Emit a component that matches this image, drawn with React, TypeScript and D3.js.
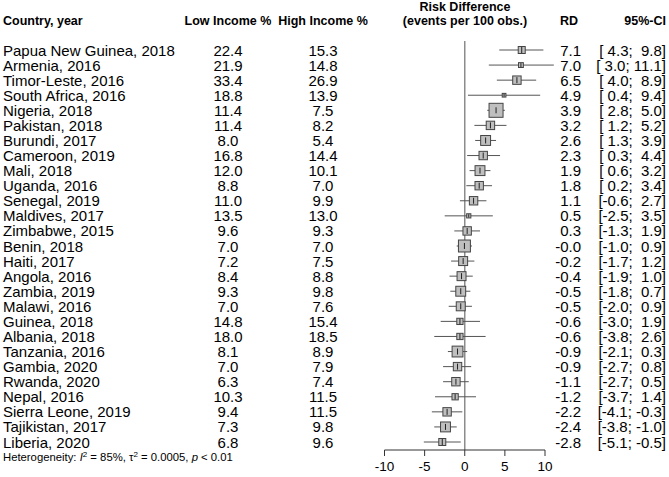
import React from "react";
import * as d3 from "d3";

const countries = [
  "Papua New Guinea, 2018", "Armenia, 2016", "Timor-Leste, 2016", "South Africa, 2016",
  "Nigeria, 2018", "Pakistan, 2018", "Burundi, 2017", "Cameroon, 2019", "Mali, 2018",
  "Uganda, 2016", "Senegal, 2019", "Maldives, 2017", "Zimbabwe, 2015", "Benin, 2018",
  "Haiti, 2017", "Angola, 2016", "Zambia, 2019", "Malawi, 2016", "Guinea, 2018",
  "Albania, 2018", "Tanzania, 2016", "Gambia, 2020", "Rwanda, 2020", "Nepal, 2016",
  "Sierra Leone, 2019", "Tajikistan, 2017", "Liberia, 2020",
];
const lowIncome = [22.4, 21.9, 33.4, 18.8, 11.4, 11.4, 8.0, 16.8, 12.0, 8.8, 11.0, 13.5, 9.6, 7.0, 7.2, 8.4, 9.3, 7.0, 14.8, 18.0, 8.1, 7.0, 6.3, 10.3, 9.4, 7.3, 6.8];
const highIncome = [15.3, 14.8, 26.9, 13.9, 7.5, 8.2, 5.4, 14.4, 10.1, 7.0, 9.9, 13.0, 9.3, 7.0, 7.5, 8.8, 9.8, 7.6, 15.4, 18.5, 8.9, 7.9, 7.4, 11.5, 11.5, 9.8, 9.6];
const rd = [7.1, 7.0, 6.5, 4.9, 3.9, 3.2, 2.6, 2.3, 1.9, 1.8, 1.1, 0.5, 0.3, -0.04, -0.2, -0.4, -0.5, -0.5, -0.6, -0.6, -0.9, -0.9, -1.1, -1.2, -2.2, -2.4, -2.8];
const ciLower = [4.3, 3.0, 4.0, 0.4, 2.8, 1.2, 1.3, 0.3, 0.6, 0.2, -0.6, -2.5, -1.3, -1.0, -1.7, -1.9, -1.8, -2.0, -3.0, -3.8, -2.1, -2.7, -2.7, -3.7, -4.1, -3.8, -5.1];
const ciUpper = [9.8, 11.1, 8.9, 9.4, 5.0, 5.2, 3.9, 4.4, 3.2, 3.4, 2.7, 3.5, 1.9, 0.9, 1.2, 1.0, 0.7, 0.9, 1.9, 2.6, 0.3, 0.8, 0.5, 1.4, -0.3, -1.0, -0.5];
const weights = [2.5, 1.2, 3.6, 0.7, 10, 3.6, 5, 3.6, 5, 3.6, 3.6, 0.9, 3.6, 7.3, 4.1, 4.1, 5, 4.1, 2, 2, 6, 3.6, 3.6, 2, 3.6, 5, 2.5];
const xTicks = [-10, -5, 0, 5, 10];

const FONT = "'Liberation Sans', Arial, sans-serif";

const fmt1 = (v: number) => (v < 0 ? "-" : "") + Math.abs(v).toFixed(1);
const pad4 = (s: string) => (s.length < 4 ? " ".repeat(4 - s.length) + s : s);

export default function App() {
  const W = 669, H = 477;
  const x = d3.scaleLinear().domain([-10, 10]).range([384.5, 545]);
  const y = d3.scalePoint<string>().domain(countries).range([50, 442]);
  const side = d3.scaleSqrt().domain([0, 10]).range([0, 14]);

  const axisY = 450;
  const hdrFs = 12.5;
  const fs = 15;

  return (
    <svg width={W} height={H} style={{ position: "absolute", left: 0, top: 0, fontFamily: FONT }}>
      <rect width={W} height={H} fill="#fff" />
      {/* headers */}
      <g fontWeight="bold" fontSize={hdrFs} fill="#000">
        <text x={3} y={25}>Country, year</text>
        <text x={228} y={25} textAnchor="middle">Low Income %</text>
        <text x={323} y={25} textAnchor="middle">High Income %</text>
        <text x={465} y={11} textAnchor="middle">Risk Difference</text>
        <text x={465} y={25} textAnchor="middle">(events per 100 obs.)</text>
        <text x={578} y={25} textAnchor="end">RD</text>
        <text x={666} y={25} textAnchor="end">95%-CI</text>
      </g>

      {/* zero line */}
      <line x1={x(0)} x2={x(0)} y1={41} y2={axisY} stroke="#8c8c8c" strokeWidth={1.5} />

      {/* rows */}
      {countries.map((c, i) => {
        const cy = y(c)!;
        const s = side(weights[i]);
        const ciStr = "[" + pad4(fmt1(ciLower[i])) + "; " + pad4(fmt1(ciUpper[i])) + "]";
        return (
          <g key={c}>
            <text x={3} y={cy + 5.5} fontSize={fs}>{c}</text>
            <text x={228} y={cy + 5.5} fontSize={fs} textAnchor="middle">{lowIncome[i].toFixed(1)}</text>
            <text x={323} y={cy + 5.5} fontSize={fs} textAnchor="middle">{highIncome[i].toFixed(1)}</text>
            <line x1={x(ciLower[i])} x2={x(ciUpper[i])} y1={cy} y2={cy} stroke="#555" strokeWidth={1} />
            <rect x={x(rd[i]) - s / 2} y={cy - s / 2} width={s} height={s} fill="#bfbfbf" stroke="#444" strokeWidth={1} />
            <line x1={x(rd[i])} x2={x(rd[i])} y1={cy - Math.min(3, s / 2 - 0.5)} y2={cy + Math.min(3, s / 2 - 0.5)} stroke="#222" strokeWidth={1} />
            <text x={581} y={cy + 5.5} fontSize={fs} textAnchor="end">{fmt1(rd[i])}</text>
            <text x={666} y={cy + 5.5} fontSize={fs} textAnchor="end" xmlSpace="preserve" style={{ whiteSpace: "pre" }}>{ciStr}</text>
          </g>
        );
      })}

      {/* heterogeneity */}
      <text x={3} y={461} fontSize={11.3} fill="#000">
        Heterogeneity: <tspan fontStyle="italic">I</tspan><tspan dy={-4} fontSize={8}>2</tspan><tspan dy={4}> = 85%, τ</tspan><tspan dy={-4} fontSize={8}>2</tspan><tspan dy={4}> = 0.0005, </tspan><tspan fontStyle="italic">p</tspan> &lt; 0.01
      </text>

      {/* axis */}
      <line x1={x(-10)} x2={x(10)} y1={axisY} y2={axisY} stroke="#333" strokeWidth={1} />
      {xTicks.map((t) => (
        <g key={t}>
          <line x1={x(t)} x2={x(t)} y1={axisY} y2={axisY + 6} stroke="#333" strokeWidth={1} />
          <text x={x(t)} y={471} fontSize={13.5} textAnchor="middle">{t}</text>
        </g>
      ))}
    </svg>
  );
}
